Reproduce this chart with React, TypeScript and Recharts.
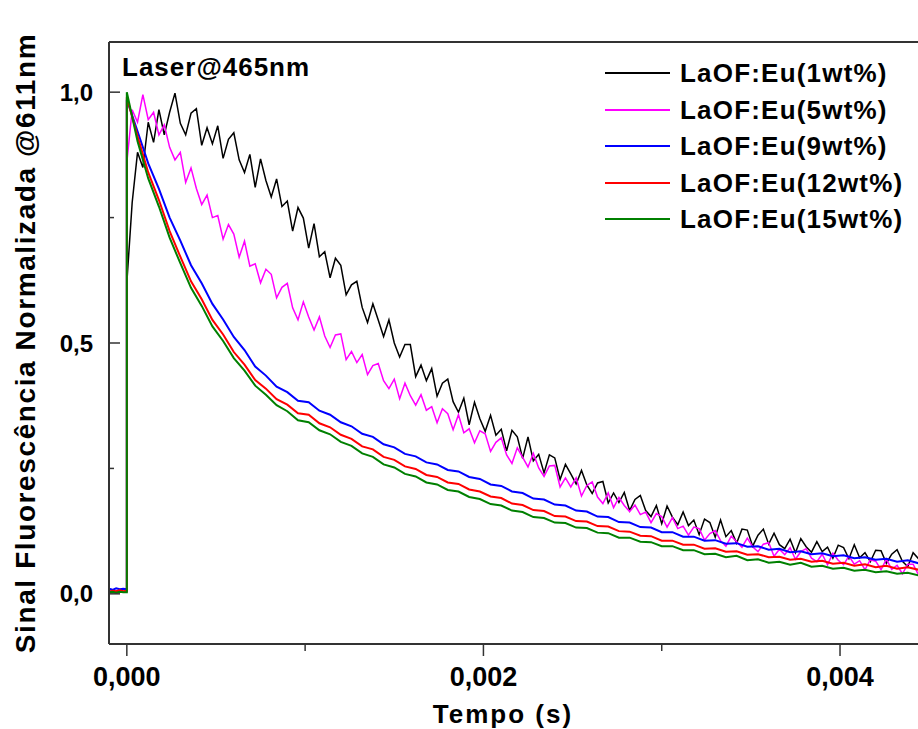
import React from 'react';
import { LineChart, Line, XAxis, YAxis, Legend, Label } from 'recharts';

const FONT = "'Liberation Sans', Arial, Helvetica, sans-serif";

// sampling grids (s)
const preTime = [-0.0001, -0.00008, -0.00006, -0.00004, -0.00002, 0];
const fineStep = 0.00003;
const coarseStep = 0.00006;

const xTicks = [0, 0.001, 0.002, 0.003, 0.004];
const xMajor = [0, 0.002, 0.004];
const yTicks = [0, 0.25, 0.5, 0.75, 1.0];
const yMajor = [0, 0.5, 1.0];
const xDomain = [-0.0001, 0.0046];
const yDomain = [-0.1, 1.1];

const seriesNames = ['LaOF:Eu(1wt%)', 'LaOF:Eu(5wt%)', 'LaOF:Eu(9wt%)', 'LaOF:Eu(12wt%)', 'LaOF:Eu(15wt%)'];
const seriesColors = ['#000000', '#ff00ff', '#0000ff', '#ff0000', '#008000'];
const seriesWidths = [1.5, 1.5, 2, 2, 2];

const xTitle = 'Tempo (s)';
const yTitle = 'Sinal Fluorescência Normalizada @611nm';
const annotation = 'Laser@465nm';

// pre-trigger baselines
const pre1 = [0.004, 0.006, 0.003, 0.005, 0.004, 0.005];
const pre5 = [0.005, 0.003, 0.006, 0.004, 0.005, 0.004];
const pre9 = [0.010, 0.008, 0.011, 0.009, 0.010, 0.009];
const pre12 = [0.004, 0.006, 0.005, 0.007, 0.005, 0.006];
const pre15 = [0.003, 0.004, 0.002, 0.004, 0.003, 0.003];

// 1wt% (fine grid)
const eu1 = [
  0.62, 0.78, 0.88, 0.85, 0.94, 0.90, 0.965, 0.915, 0.96, 0.998,
  0.938, 0.915, 0.958, 0.967, 0.894, 0.929, 0.897, 0.933, 0.868, 0.906,
  0.919, 0.865, 0.840, 0.876, 0.810, 0.867, 0.824, 0.791, 0.827, 0.772,
  0.783, 0.723, 0.770, 0.749, 0.689, 0.738, 0.672, 0.682, 0.630, 0.669,
  0.655, 0.596, 0.616, 0.623, 0.571, 0.541, 0.578, 0.546, 0.513, 0.546,
  0.500, 0.472, 0.497, 0.497, 0.433, 0.456, 0.425, 0.449, 0.394, 0.420,
  0.428, 0.383, 0.362, 0.390, 0.337, 0.382, 0.349, 0.324, 0.356, 0.316,
  0.328, 0.285, 0.326, 0.313, 0.270, 0.313, 0.265, 0.278, 0.241, 0.277,
  0.271, 0.228, 0.258, 0.239, 0.219, 0.246, 0.217, 0.200, 0.221, 0.224,
  0.181, 0.201, 0.182, 0.202, 0.166, 0.188, 0.196, 0.166, 0.154, 0.176,
  0.140, 0.175, 0.153, 0.138, 0.163, 0.136, 0.147, 0.118, 0.149, 0.142,
  0.113, 0.147, 0.114, 0.126, 0.101, 0.129, 0.127, 0.095, 0.117, 0.129,
  0.099, 0.121, 0.098, 0.090, 0.109, 0.082, 0.110, 0.094, 0.083, 0.104,
  0.084, 0.093, 0.071, 0.097, 0.092, 0.070, 0.098, 0.072, 0.082, 0.064,
  0.087, 0.086, 0.061, 0.079, 0.088, 0.065, 0.054, 0.082, 0.070, 0.057,
  0.082, 0.062, 0.051, 0.071,
];

// 5wt% (fine grid)
const eu5 = [
  0.86, 0.965, 0.94, 0.995, 0.945, 0.96, 0.915, 0.935, 0.89, 0.865,
  0.880, 0.820, 0.849, 0.808, 0.776, 0.795, 0.750, 0.754, 0.707, 0.736,
  0.717, 0.671, 0.703, 0.653, 0.658, 0.620, 0.647, 0.637, 0.590, 0.611,
  0.619, 0.570, 0.546, 0.582, 0.552, 0.526, 0.552, 0.514, 0.491, 0.516,
  0.518, 0.467, 0.483, 0.461, 0.477, 0.437, 0.455, 0.459, 0.425, 0.409,
  0.428, 0.389, 0.420, 0.395, 0.376, 0.397, 0.366, 0.373, 0.341, 0.369,
  0.359, 0.327, 0.357, 0.321, 0.329, 0.301, 0.325, 0.319, 0.284, 0.302,
  0.311, 0.277, 0.260, 0.291, 0.272, 0.253, 0.280, 0.251, 0.234, 0.255,
  0.256, 0.213, 0.231, 0.213, 0.231, 0.195, 0.216, 0.223, 0.193, 0.180,
  0.201, 0.172, 0.192, 0.176, 0.164, 0.177, 0.158, 0.163, 0.142, 0.160,
  0.154, 0.133, 0.152, 0.130, 0.135, 0.117, 0.133, 0.130, 0.107, 0.120,
  0.126, 0.106, 0.095, 0.115, 0.104, 0.093, 0.111, 0.094, 0.084, 0.099,
  0.102, 0.075, 0.089, 0.078, 0.092, 0.069, 0.084, 0.090, 0.071, 0.064,
  0.079, 0.058, 0.081, 0.067, 0.058, 0.075, 0.059, 0.066, 0.048, 0.068,
  0.065, 0.048, 0.069, 0.049, 0.057, 0.040, 0.059, 0.059, 0.038, 0.053,
  0.061, 0.042, 0.034, 0.056,
];

// 9wt% (coarse grid)
const eu9 = [
  0.985, 0.922, 0.858, 0.807, 0.750, 0.704, 0.655, 0.619, 0.578, 0.547,
  0.512, 0.486, 0.453, 0.435, 0.413, 0.402, 0.385, 0.382, 0.365, 0.357,
  0.342, 0.334, 0.319, 0.313, 0.298, 0.292, 0.279, 0.274, 0.262, 0.258,
  0.247, 0.244, 0.233, 0.229, 0.218, 0.215, 0.204, 0.201, 0.190, 0.188,
  0.178, 0.176, 0.166, 0.164, 0.154, 0.153, 0.143, 0.142, 0.133, 0.132,
  0.123, 0.123, 0.114, 0.114, 0.106, 0.107, 0.100, 0.101, 0.094, 0.095,
  0.088, 0.090, 0.083, 0.085, 0.079, 0.081, 0.075, 0.077, 0.071, 0.073,
  0.068, 0.070, 0.064, 0.067, 0.061, 0.064, 0.059,
];

// 12wt% (coarse grid)
const eu12 = [
  0.990, 0.912, 0.840, 0.785, 0.723, 0.672, 0.623, 0.587, 0.546, 0.517,
  0.482, 0.457, 0.426, 0.409, 0.388, 0.377, 0.360, 0.357, 0.340, 0.332,
  0.317, 0.309, 0.294, 0.288, 0.273, 0.267, 0.254, 0.249, 0.237, 0.233,
  0.222, 0.219, 0.208, 0.204, 0.194, 0.191, 0.180, 0.177, 0.167, 0.165,
  0.155, 0.154, 0.145, 0.144, 0.135, 0.134, 0.125, 0.124, 0.116, 0.115,
  0.106, 0.106, 0.098, 0.098, 0.090, 0.091, 0.084, 0.085, 0.078, 0.079,
  0.073, 0.074, 0.068, 0.070, 0.064, 0.066, 0.060, 0.062, 0.056, 0.059,
  0.053, 0.056, 0.050, 0.053, 0.048, 0.051, 0.046,
];

// 15wt% (coarse grid)
const eu15 = [
  1.000, 0.902, 0.828, 0.772, 0.710, 0.659, 0.610, 0.574, 0.533, 0.504,
  0.470, 0.445, 0.415, 0.397, 0.376, 0.364, 0.346, 0.342, 0.326, 0.318,
  0.303, 0.295, 0.280, 0.273, 0.258, 0.252, 0.239, 0.234, 0.222, 0.218,
  0.207, 0.204, 0.193, 0.189, 0.179, 0.176, 0.166, 0.163, 0.153, 0.151,
  0.142, 0.141, 0.132, 0.131, 0.122, 0.121, 0.112, 0.112, 0.104, 0.103,
  0.095, 0.095, 0.087, 0.087, 0.079, 0.080, 0.073, 0.076, 0.067, 0.069,
  0.062, 0.064, 0.058, 0.062, 0.054, 0.056, 0.050, 0.052, 0.046, 0.048,
  0.043, 0.045, 0.040, 0.042, 0.037, 0.040, 0.035,
];

function build(pre: number[], main: number[], step: number) {
  return [
    ...pre.map((v, i) => ({ t: preTime[i], v })),
    ...main.map((v, i) => ({ t: i * step, v })),
  ];
}

const series = [
  { name: seriesNames[0], color: seriesColors[0], width: seriesWidths[0], data: build(pre1, eu1, fineStep) },
  { name: seriesNames[1], color: seriesColors[1], width: seriesWidths[1], data: build(pre5, eu5, fineStep) },
  { name: seriesNames[2], color: seriesColors[2], width: seriesWidths[2], data: build(pre9, eu9, coarseStep) },
  { name: seriesNames[3], color: seriesColors[3], width: seriesWidths[3], data: build(pre12, eu12, coarseStep) },
  { name: seriesNames[4], color: seriesColors[4], width: seriesWidths[4], data: build(pre15, eu15, coarseStep) },
];

const isIn = (arr: number[], v: number) => arr.some((m) => Math.abs(m - v) < 1e-9);

const XTick = (props: any) => {
  const { x, y, payload } = props;
  const major = isIn(xMajor, payload.value);
  return (
    <g>
      <line x1={x} x2={x} y1={y} y2={y + (major ? 12 : 7)} stroke="#333" strokeWidth={1.5} />
      {major && (
        <text x={x} y={y + 42} textAnchor="middle" fontFamily={FONT} fontWeight="bold" fontSize={27} fill="#000">
          {payload.value.toFixed(3).replace('.', ',')}
        </text>
      )}
    </g>
  );
};

const YTick = (props: any) => {
  const { x, y, payload } = props;
  const major = isIn(yMajor, payload.value);
  return (
    <g>
      <line x1={x} x2={x + (major ? 11 : 5)} y1={y} y2={y} stroke="#333" strokeWidth={1.5} />
      {major && (
        <text x={x - 16} y={y} dy="0.36em" textAnchor="end" fontFamily={FONT} fontWeight="bold" fontSize={24} fill="#000">
          {payload.value.toFixed(1).replace('.', ',')}
        </text>
      )}
    </g>
  );
};

const XTitle = (props: any) => {
  const { viewBox } = props;
  const cx = viewBox.x + viewBox.width / 2 - 25;
  return (
    <text x={cx} y={viewBox.y + 79} textAnchor="middle" fontFamily={FONT} fontWeight="bold" fontSize={26} letterSpacing={2} fill="#000">
      {xTitle}
    </text>
  );
};

const YTitle = (props: any) => {
  const { viewBox } = props;
  const cx = viewBox.x + viewBox.width - 84;
  const cy = viewBox.y + viewBox.height / 2;
  return (
    <text x={cx} y={cy} transform={`rotate(-90 ${cx} ${cy})`} textAnchor="middle" dominantBaseline="central" fontFamily={FONT} fontWeight="bold" fontSize={28} letterSpacing={1.6} fill="#000">
      {yTitle}
    </text>
  );
};

const renderLegend = (props: any) => {
  const payload = [...(props.payload || [])].sort(
    (a: any, b: any) => seriesNames.indexOf(a.value) - seriesNames.indexOf(b.value)
  );
  return (
    <div>
      {payload.map((entry: any) => (
        <div key={entry.value} style={{ display: 'flex', alignItems: 'center', height: 36.5 }}>
          <svg width={65} height={4} style={{ display: 'block' }}>
            <line x1={0} x2={65} y1={2} y2={2} stroke={entry.color} strokeWidth={2} />
          </svg>
          <span style={{ marginLeft: 10, fontFamily: FONT, fontWeight: 'bold', fontSize: 26, letterSpacing: 1.2, color: '#000', lineHeight: '36.5px', whiteSpace: 'nowrap' }}>
            {entry.value}
          </span>
        </div>
      ))}
    </div>
  );
};

export default function App() {
  return (
    <div style={{ position: 'fixed', left: 0, top: 0, width: 918, height: 729, overflow: 'hidden', background: '#fff' }}>
      <LineChart width={960} height={729} margin={{ top: 41, right: 13, bottom: 84, left: 108 }}>
        <XAxis
          type="number"
          dataKey="t"
          domain={xDomain}
          allowDataOverflow
          ticks={xTicks}
          interval={0}
          height={1}
          tickSize={0}
          tickMargin={0}
          tickLine={false}
          tick={(p: any) => <XTick {...p} />}
          axisLine={{ stroke: '#333', strokeWidth: 2 }}
        >
          <Label content={(p: any) => <XTitle {...p} />} />
        </XAxis>
        <XAxis
          xAxisId="top"
          orientation="top"
          type="number"
          dataKey="t"
          domain={xDomain}
          allowDataOverflow
          height={1}
          tick={false}
          tickLine={false}
          axisLine={{ stroke: '#333', strokeWidth: 2 }}
        />
        <YAxis
          type="number"
          domain={yDomain}
          allowDataOverflow
          ticks={yTicks}
          interval={0}
          width={1}
          tickSize={0}
          tickMargin={0}
          tickLine={false}
          tick={(p: any) => <YTick {...p} />}
          axisLine={{ stroke: '#333', strokeWidth: 2 }}
        >
          <Label content={(p: any) => <YTitle {...p} />} />
        </YAxis>
        <Legend
          layout="vertical"
          align="center"
          verticalAlign="middle"
          content={renderLegend}
          wrapperStyle={{ left: 605, top: 55, width: 310, height: 185 }}
        />
        {series.map((s) => (
          <Line
            key={s.name}
            data={s.data}
            dataKey="v"
            name={s.name}
            stroke={s.color}
            strokeWidth={s.width}
            dot={false}
            type="linear"
            isAnimationActive={false}
          />
        ))}
        <text x={122} y={76} fontFamily={FONT} fontWeight="bold" fontSize={26} letterSpacing={1} fill="#000">
          {annotation}
        </text>
      </LineChart>
    </div>
  );
}
